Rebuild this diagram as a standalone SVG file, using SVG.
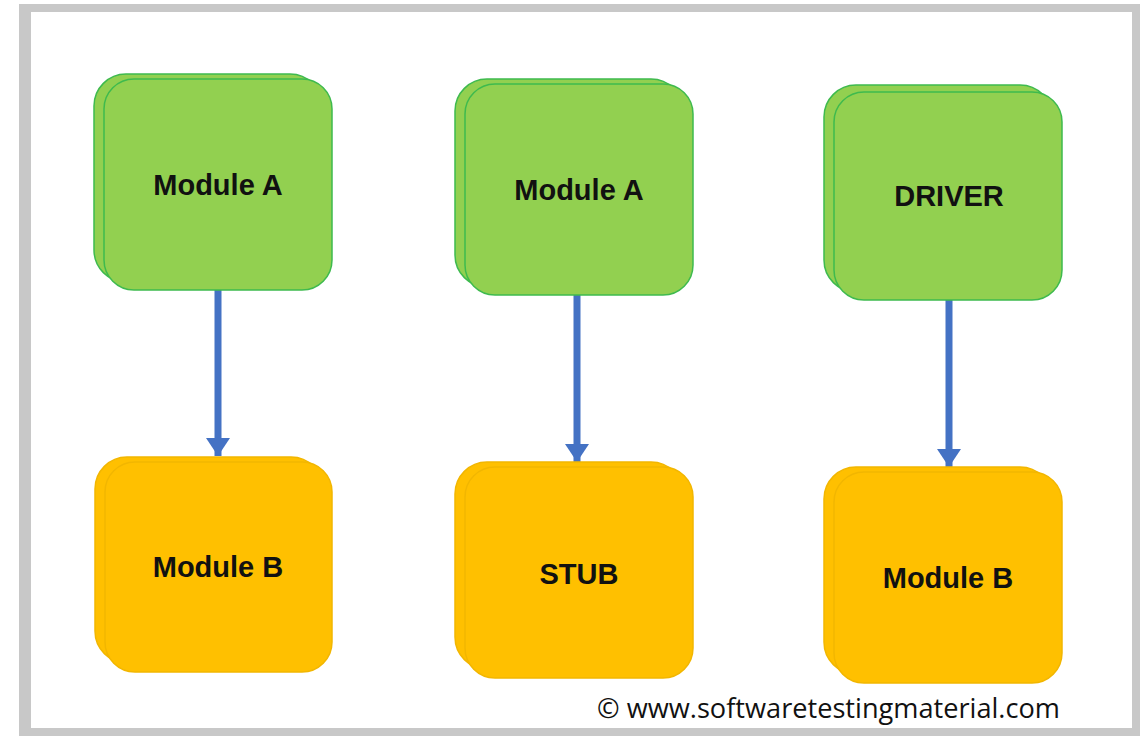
<svg xmlns="http://www.w3.org/2000/svg" width="1140" height="736" viewBox="0 0 1140 736">
<defs>
<style>
.g{fill:#92D050;stroke:#3EBA4E;stroke-width:1.5}
.o{fill:#FFC000;stroke:#F2B600;stroke-width:1.5}
.lbl{font-family:"Liberation Sans",Arial,sans-serif;font-weight:bold;font-size:29px;fill:#111;text-anchor:middle}
.conn{stroke:#4472C4;stroke-width:7;fill:none}
</style>
<marker id="ah" markerUnits="userSpaceOnUse" markerWidth="20" markerHeight="26" refX="18" refY="12" orient="auto">
<path d="M0,0 L18,12 L0,24 Z" fill="#4472C4"/>
</marker>
</defs>
<rect x="19" y="4" width="1121" height="732" fill="#C8C8C8"/>
<rect x="31" y="12" width="1101" height="716" fill="#FFFFFF"/>

<g id="connectors">
<line class="conn" x1="218" y1="290" x2="218" y2="456" marker-end="url(#ah)"/>
<line class="conn" x1="577" y1="295" x2="577" y2="462" marker-end="url(#ah)"/>
<line class="conn" x1="949" y1="300" x2="949" y2="467" marker-end="url(#ah)"/>
</g>

<g id="node-moduleA-1">
<rect class="g" x="94" y="74" width="228" height="208" rx="32"/>
<rect class="g" x="104" y="79" width="228" height="211" rx="30"/>
<text class="lbl" x="218" y="195">Module A</text>
</g>
<g id="node-moduleB-1">
<rect class="o" x="95" y="457" width="228" height="206" rx="32"/>
<rect class="o" x="105" y="462" width="227" height="210" rx="30"/>
<text class="lbl" x="218" y="577">Module B</text>
</g>

<g id="node-moduleA-2">
<rect class="g" x="455" y="79" width="228" height="208" rx="32"/>
<rect class="g" x="465" y="84" width="228" height="211" rx="30"/>
<text class="lbl" x="579" y="200">Module A</text>
</g>
<g id="node-stub">
<rect class="o" x="455" y="462" width="228" height="207" rx="32"/>
<rect class="o" x="465" y="467" width="228" height="211" rx="30"/>
<text class="lbl" x="579" y="584">STUB</text>
</g>

<g id="node-driver">
<rect class="g" x="824" y="85" width="228" height="207" rx="32"/>
<rect class="g" x="834" y="92" width="228" height="208" rx="30"/>
<text class="lbl" x="949" y="206">DRIVER</text>
</g>
<g id="node-moduleB-2">
<rect class="o" x="824" y="467" width="228" height="207" rx="32"/>
<rect class="o" x="834" y="472" width="228" height="211" rx="30"/>
<text class="lbl" x="948" y="588">Module B</text>
</g>

<text x="597" y="718" font-family="'Open Sans','Liberation Sans',Arial,sans-serif" font-size="27" fill="#111" textLength="463" lengthAdjust="spacingAndGlyphs">© www.softwaretestingmaterial.com</text>
</svg>
